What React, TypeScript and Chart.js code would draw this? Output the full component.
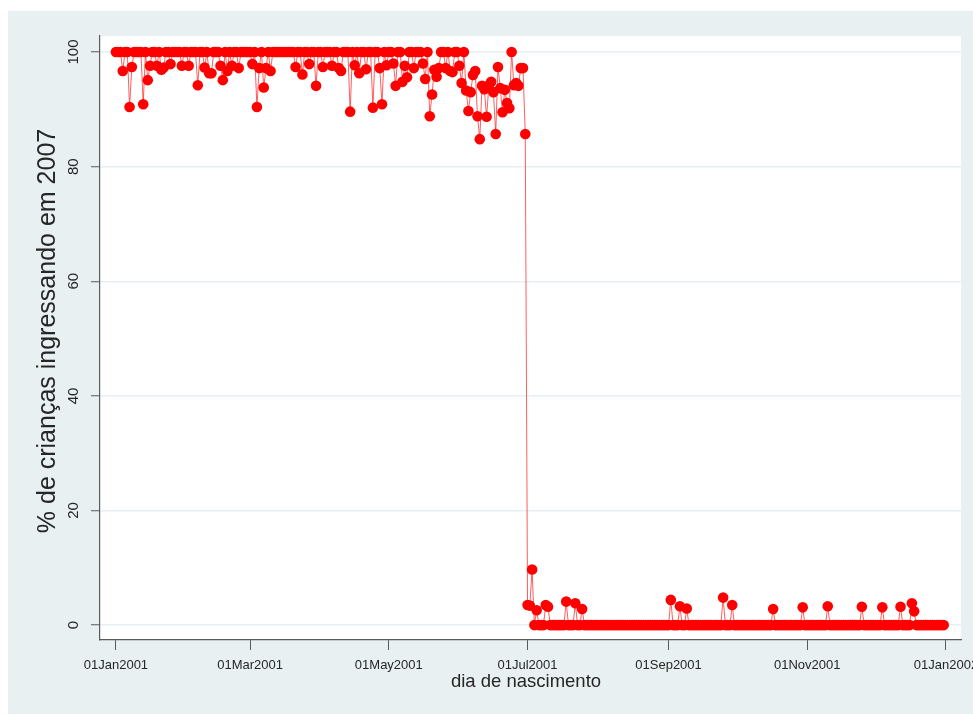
import React, { useEffect, useRef } from "react";
import { Chart, registerables } from "chart.js";

Chart.register(...registerables);

// % of children entering school in 2007, by day of birth (2001)
const jan = [100,100,100,96.7,100,100,90.4,97.4,100,100, 100,100,90.9,100,95.1,97.6,100,100,97.6,100, 96.9,97.3,100,100,97.9,100,100,100,100,97.6, 100];
const feb = [100,97.6,100,100,100,94.2,100,100,97.3,100, 96.3,96.3,100,100,100,97.6,95.1,100,96.7,100, 97.6,100,100,97.2,100,100,100,100];
const mar = [100,97.9,100,90.4,97.2,100,93.8,97.2,100,96.7, 100,100,100,100,100,100,100,100,100,100, 97.4,100,100,96.1,100,100,97.9,100,100,94.1, 100];
const apr = [100,97.4,100,100,100,97.6,100,100,97.2,96.7, 100,100,100,89.6,100,97.7,100,96.3,100,100, 97.0,100,100,90.3,100,100,97.2,90.9,100,97.7];
const may = [100,100,98.0,94.1,100,100,94.8,97.6,95.6,100, 100,97.2,100,100,100,98.0,95.3,100,88.8,92.6, 96.9,95.7,97.2,100,100,97.2,100,96.7,96.5,100, 100];
const jun = [97.6,94.6,100,93.3,89.7,93.0,96.0,96.7,88.8,84.8, 94.1,93.5,88.7,94.2,94.8,93.0,85.7,97.4,93.7,89.5, 93.4,91.1,90.2,100,94.2,94.6,94.1,97.2,97.2,85.7];
const jul = [3.5,3.4,9.7,0,2.6,0,0,0,3.5,3.2, 0,0,0,0,0,0,0,4.1,0,0, 0,3.8,0,0,2.8,0,0,0,0,0, 0];
const aug = [0,0,0,0,0,0,0,0,0,0, 0,0,0,0,0,0,0,0,0,0, 0,0,0,0,0,0,0,0,0,0, 0];
const sep = [0,4.4,0,0,0,3.3,0,0,2.9,0, 0,0,0,0,0,0,0,0,0,0, 0,0,0,0,4.8,0,0,0,3.5,0];
const oct = [0,0,0,0,0,0,0,0,0,0, 0,0,0,0,0,0,2.8,0,0,0, 0,0,0,0,0,0,0,0,0,3.1, 0];
const nov = [0,0,0,0,0,0,0,0,0,3.3, 0,0,0,0,0,0,0,0,0,0, 0,0,0,0,3.2,0,0,0,0,0];
const dec = [0,0,0,3.1,0,0,0,0,0,0, 0,3.2,0,0,0,0,3.8,2.4,0,0, 0,0,0,0,0,0,0,0,0,0, 0];

const dailyValues = [...jan, ...feb, ...mar, ...apr, ...may, ...jun, ...jul, ...aug, ...sep, ...oct, ...nov, ...dec];

const xTickDays = [0, 59, 120, 181, 243, 304, 365];
const xTickLabels = ["01Jan2001", "01Mar2001", "01May2001", "01Jul2001", "01Sep2001", "01Nov2001", "01Jan2002"];
const yTicks = [0, 20, 40, 60, 80, 100];

const yTitle = "% de crianças ingressando em 2007";
const xTitle = "dia de nascimento";

const FONT = "'Liberation Sans', Arial, Helvetica, sans-serif";
const AXIS = "#5a5a5a";
const GRID = "#e6eff1";
const BG = "#e9f0f2";

export default function App() {
  const ref = useRef<HTMLCanvasElement | null>(null);

  useEffect(() => {
    if (!ref.current) return;
    const textPlugin = {
      id: "stataText",
      beforeDraw(chart: any) {
        const { ctx, chartArea } = chart;
        ctx.save();
        ctx.fillStyle = "#ffffff";
        ctx.fillRect(chartArea.left, chartArea.top, chartArea.right - chartArea.left, chartArea.bottom - chartArea.top);
        ctx.restore();
      },
      afterDraw(chart: any) {
        const { ctx } = chart;
        const xs = chart.scales.x;
        const ys = chart.scales.y;
        ctx.save();
        ctx.fillStyle = "#262626";
        ctx.font = `15px ${FONT}`;
        ctx.textAlign = "center";
        ctx.textBaseline = "middle";
        yTicks.forEach((v) => {
          const y = ys.getPixelForValue(v);
          ctx.save();
          ctx.translate(66, y);
          ctx.rotate(-Math.PI / 2);
          ctx.fillText(String(v), 0, 0);
          ctx.restore();
        });
        ctx.font = `13px ${FONT}`;
        xTickDays.forEach((d, i) => {
          ctx.fillText(xTickLabels[i], xs.getPixelForValue(d), 654);
        });
        ctx.font = `18.5px ${FONT}`;
        ctx.fillText(xTitle, 518, 671);
        ctx.save();
        ctx.translate(40, 320);
        ctx.rotate(-Math.PI / 2);
        ctx.font = `25px ${FONT}`;
        ctx.fillText(yTitle, 0, 0);
        ctx.restore();
        ctx.restore();
      },
    };

    const chart = new Chart(ref.current, {
      type: "line",
      data: {
        datasets: [
          {
            data: dailyValues.map((v, i) => ({ x: i, y: v })),
            borderColor: "rgba(255,40,40,0.75)",
            borderWidth: 1,
            pointRadius: 5.3,
            pointBackgroundColor: "#ff0000",
            pointBorderColor: "#ff0000",
            pointBorderWidth: 0,
            tension: 0,
            fill: false,
          },
        ],
      },
      options: {
        responsive: false,
        animation: false,
        devicePixelRatio: 1,
        layout: { padding: { top: 25, right: 12, left: 0, bottom: 0 } },
        plugins: { legend: { display: false }, tooltip: { enabled: false } },
        scales: {
          x: {
            type: "linear",
            min: -7,
            max: 371.6,
            afterBuildTicks: (s: any) => {
              s.ticks = xTickDays.map((v) => ({ value: v }));
            },
            afterFit: (s: any) => {
              s.height = 74;
            },
            ticks: { display: false },
            grid: { drawOnChartArea: false, drawTicks: true, tickLength: 10, tickColor: AXIS, tickWidth: 1 },
            border: { display: true, color: AXIS, width: 1.2 },
          },
          y: {
            type: "linear",
            min: -2.6,
            max: 102.8,
            afterBuildTicks: (s: any) => {
              s.ticks = yTicks.map((v) => ({ value: v }));
            },
            afterFit: (s: any) => {
              s.width = 92;
            },
            ticks: { display: false },
            grid: { color: GRID, lineWidth: 1.5, drawTicks: true, tickLength: 9, tickColor: AXIS, tickWidth: 1 },
            border: { display: true, color: AXIS, width: 1.2 },
          },
        },
      },
      plugins: [textPlugin],
    } as any);
    return () => chart.destroy();
  }, []);

  return (
    <div style={{ position: "absolute", left: 0, top: 0, width: 973, height: 715, background: "#ffffff" }}>
      <div style={{ position: "absolute", left: 8, top: 11, width: 965, height: 703, background: BG }}>
        <canvas ref={ref} width={965} height={703} style={{ display: "block", width: 965, height: 703 }} />
      </div>
    </div>
  );
}
